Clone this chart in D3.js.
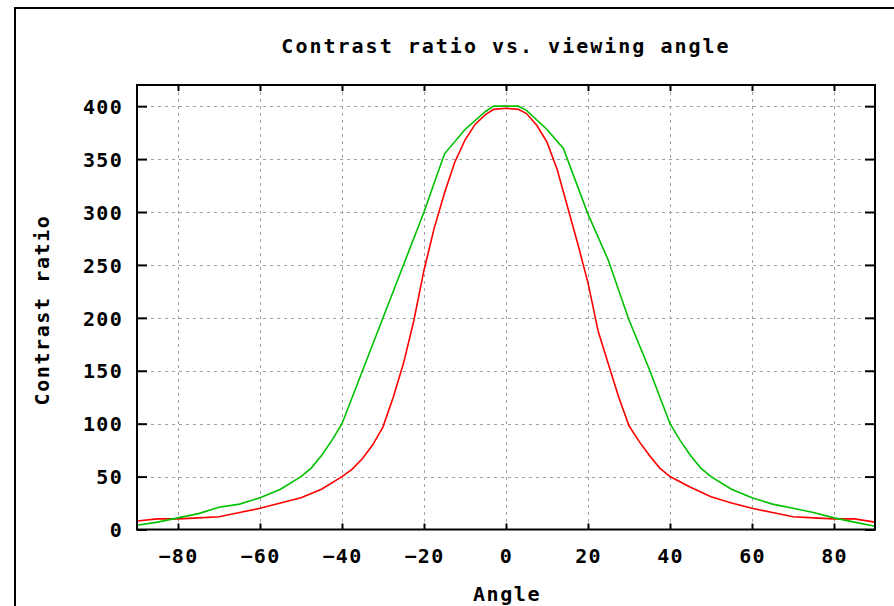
<!DOCTYPE html>
<html>
<head>
<meta charset="utf-8">
<script src="https://cdn.jsdelivr.net/npm/d3@7"></script>
<style>
  html, body { margin: 0; padding: 0; background: #fff; }
  svg { display: block; }
  text { font-family: "DejaVu Sans Mono", "Liberation Mono", monospace; font-weight: bold; fill: #000; }
</style>
</head>
<body>
<script>
// ---- data ----
const title = "Contrast ratio vs. viewing angle";
const xLabel = "Angle";
const yLabel = "Contrast ratio";
const redAngles = [-90,-85,-80,-75,-70,-65,-60,-55,-50,-45,-40,-37.5,-35,-32.5,-30,-27.5,-25,-22.5,-20,-17.5,-15,-12.5,-10,-7.5,-5,-3,0,3,5,7.5,10,12.5,15,17.5,20,22.5,25,27.5,30,32.5,35,37.5,40,45,50,55,60,65,70,75,80,85,90];
const redValues = [8,10,10,11,12,16,20,25,30,38,50,57,67,80,97,125,157,197,245,285,318,347,368,383,392,397,398,397,393,382,366,340,305,270,233,187,156,125,98,83,70,58,50,40,31,25,20,16,12,11,10,10,7];
const greenAngles = [-90,-85,-80,-75,-70,-65,-60,-55,-50,-47.5,-45,-42.5,-40,-35,-30,-25,-20,-15,-10,-5,-3,3,5,10,14,20,25,30,35,40,42.5,45,47.5,50,55,60,65,70,75,80,85,90];
const greenValues = [4,7,11,15,21,24,30,38,50,58,70,84,100,150,200,250,300,355,378,395,400,400,396,378,360,298,254,198,151,100,84,70,58,50,38,30,24,20,16,11,7,3];
const xTicks = [-80,-60,-40,-20,0,20,40,60,80];
const yTicks = [0,50,100,150,200,250,300,350,400];

(function () {
// ---- layout ----
const W = 894, H = 606;
const pL = 137, pR = 875, pT = 85, pB = 529.5;

const svg = d3.select("body").append("svg").attr("width", W).attr("height", H);

// outer frame
svg.append("path")
  .attr("d", `M15,${H + 5}V8H${W + 5}`)
  .attr("fill", "none").attr("stroke", "#000").attr("stroke-width", 2);

const x = d3.scaleLinear().domain([-90, 90]).range([pL, pR]);
const y = d3.scaleLinear().domain([0, 420]).range([pB, pT]);

// grid
const grid = svg.append("g").attr("stroke", "#a0a0a0").attr("stroke-width", 1).attr("stroke-dasharray", "3,4");
grid.selectAll("line.v").data(xTicks).enter().append("line").attr("class", "v")
  .attr("x1", d => Math.round(x(d)) + 0.5).attr("x2", d => Math.round(x(d)) + 0.5)
  .attr("y1", pT).attr("y2", pB);
grid.selectAll("line.h").data(yTicks.filter(d => d > 0)).enter().append("line").attr("class", "h")
  .attr("y1", d => Math.round(y(d)) + 0.5).attr("y2", d => Math.round(y(d)) + 0.5)
  .attr("x1", pL).attr("x2", pR);

// axes with mirrored inward ticks
const axB = svg.append("g").attr("transform", `translate(0,${pB})`)
  .call(d3.axisBottom(x).tickValues(xTicks).tickSizeInner(-6).tickSizeOuter(0).tickPadding(19).tickFormat(d3.format("d")));
const axT = svg.append("g").attr("transform", `translate(0,${pT})`)
  .call(d3.axisTop(x).tickValues(xTicks).tickSizeInner(-6).tickSizeOuter(0).tickFormat(""));
const axL = svg.append("g").attr("transform", `translate(${pL},0)`)
  .call(d3.axisLeft(y).tickValues(yTicks).tickSizeInner(-10).tickSizeOuter(0).tickPadding(14).tickFormat(d3.format("d")));
const axR = svg.append("g").attr("transform", `translate(${pR},0)`)
  .call(d3.axisRight(y).tickValues(yTicks).tickSizeInner(-10).tickSizeOuter(0).tickFormat(""));
[axB, axT, axL, axR].forEach(a => {
  a.select(".domain").remove();
  a.selectAll("line").attr("stroke", "#000").attr("stroke-width", 2);
  a.selectAll("text").attr("fill", "#000")
    .style("font-family", "'DejaVu Sans Mono', monospace").style("font-weight", "bold")
    .style("font-size", "20px").style("letter-spacing", "1.3px");
});
axB.selectAll("text").attr("dy", "0.71em");
axL.selectAll("text").attr("dy", "0.36em");

// curves
const line = d3.line().x(d => x(d[0])).y(d => y(d[1]));
svg.append("path").datum(redAngles.map((a, i) => [a, redValues[i]]))
  .attr("d", line).attr("fill", "none").attr("stroke", "#ff0000").attr("stroke-width", 1.6);
svg.append("path").datum(greenAngles.map((a, i) => [a, greenValues[i]]))
  .attr("d", line).attr("fill", "none").attr("stroke", "#00c000").attr("stroke-width", 1.6);

// border
svg.append("rect").attr("x", pL).attr("y", pT).attr("width", pR - pL).attr("height", pB - pT)
  .attr("fill", "none").attr("stroke", "#000").attr("stroke-width", 2);

// title and labels
svg.append("text").attr("x", 506).attr("y", 53).attr("text-anchor", "middle")
  .style("font-size", "20px").style("letter-spacing", "2px").text(title);
svg.append("text").attr("x", 507).attr("y", 601).attr("text-anchor", "middle")
  .style("font-size", "20px").style("letter-spacing", "1.6px").text(xLabel);
svg.append("text").attr("transform", "translate(49,310) rotate(-90)").attr("text-anchor", "middle")
  .style("font-size", "20px").style("letter-spacing", "1.6px").text(yLabel);
})();
</script>
</body>
</html>
